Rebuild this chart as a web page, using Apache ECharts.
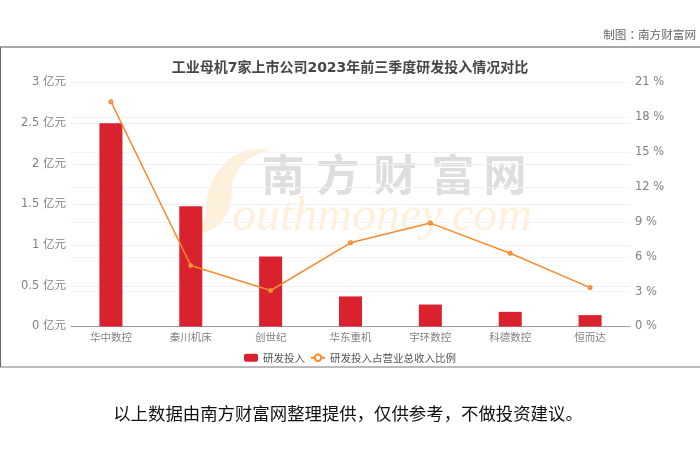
<!DOCTYPE html>
<html>
<head>
<meta charset="utf-8">
<style>
html, body { margin: 0; padding: 0; background: #fff; }
#chart { width: 700px; height: 467px; }
</style>
<script src="https://cdn.jsdelivr.net/npm/echarts@6/dist/echarts.min.js"></script>
</head>
<body>
<div id="chart"></div>
<script>
var categories = ['华中数控', '秦川机床', '创世纪', '华东重机', '宇环数控', '科德数控', '恒而达']
var rdSpend = [2.5, 1.48, 0.86, 0.37, 0.27, 0.18, 0.14]
var rdRatio = [19.35, 5.25, 3.1, 7.2, 8.9, 6.3, 3.35]
var fontCJK = '"Noto Sans CJK SC", "DejaVu Sans", sans-serif'
var fontAxis = '"DejaVu Sans", "Noto Sans CJK SC", sans-serif'

// watermark glyphs are spaced wider than the font does by itself
var wmChars = ['南', '方', '财', '富', '网']
var wmX = [283, 338, 395, 453, 505]
var wmElements = wmChars.map(function (c, i) {
  return {
    type: 'text', silent: true, z: -1, x: wmX[i], y: 175,
    style: { text: c, align: 'center', verticalAlign: 'middle', font: 'bold 43px ' + fontCJK, fill: '#dedede' }
  }
})

var chart = echarts.init(document.getElementById('chart'), null, { renderer: 'canvas' })
chart.setOption({
  animation: false,
  backgroundColor: '#fff',
  title: {
    text: '工业母机7家上市公司2023年前三季度研发投入情况对比',
    left: 345,
    top: 56,
    textAlign: 'center',
    textStyle: { fontFamily: fontAxis, fontSize: 14, fontWeight: 'bold', color: '#464646' }
  },
  legend: {
    bottom: 99,
    left: 'center',
    itemWidth: 14,
    itemHeight: 8,
    itemGap: 5,
    textStyle: { fontFamily: fontCJK, fontSize: 10.5, color: '#555' },
    data: ['研发投入', '研发投入占营业总收入比例']
  },
  grid: { left: 71, right: 70, top: 82.5, bottom: 140.5 },
  xAxis: {
    type: 'category',
    data: categories,
    axisLine: { lineStyle: { color: '#9a9aa6' } },
    axisTick: { lineStyle: { color: '#9a9aa6' } },
    axisLabel: { fontFamily: fontCJK, fontSize: 10.5, color: '#808088', margin: 5 }
  },
  yAxis: [
    {
      type: 'value',
      min: 0,
      max: 3,
      interval: 0.5,
      axisLine: { show: false },
      axisTick: { show: false },
      splitLine: { lineStyle: { color: '#eef0f8' } },
      axisLabel: { fontFamily: fontAxis, fontSize: 11.5, color: '#808088', margin: 5, padding: [3, 0, 0, 0], formatter: '{value} 亿元' }
    },
    {
      type: 'value',
      min: 0,
      max: 21,
      interval: 3,
      axisLine: { show: false },
      axisTick: { show: false },
      splitLine: { lineStyle: { color: '#f2f3fa' } },
      axisLabel: { fontFamily: fontAxis, fontSize: 11.5, color: '#808088', margin: 5, padding: [2, 0, 0, 0], formatter: '{value} %' }
    }
  ],
  series: [
    {
      name: '研发投入',
      type: 'bar',
      barWidth: 23,
      data: rdSpend,
      itemStyle: { color: '#da222e' }
    },
    {
      name: '研发投入占营业总收入比例',
      type: 'line',
      yAxisIndex: 1,
      symbol: 'emptyCircle',
      symbolSize: 3,
      data: rdRatio,
      lineStyle: { color: '#f98a2c', width: 1.5 },
      itemStyle: { color: '#f98a2c' }
    }
  ],
  graphic: wmElements.concat([
    // frame round the chart
    { type: 'line', shape: { x1: 0, y1: 47, x2: 700, y2: 47 }, style: { stroke: '#a8a8a8', lineWidth: 2 } },
    { type: 'line', shape: { x1: 0.5, y1: 47, x2: 0.5, y2: 367 }, style: { stroke: '#666', lineWidth: 1 } },
    { type: 'line', shape: { x1: 0, y1: 367, x2: 700, y2: 367 }, style: { stroke: '#777', lineWidth: 1 } },
    { type: 'text', x: 696, y: 35, style: { text: '制图：南方财富网', align: 'right', verticalAlign: 'middle', font: '11.6px "Noto Sans CJK TC", sans-serif', fill: '#666' } },
    { type: 'text', x: 348, y: 413, style: { text: '以上数据由南方财富网整理提供，仅供参考，不做投资建议。', align: 'center', verticalAlign: 'middle', font: '17.4px ' + fontCJK, fill: '#111' } },
    // watermark
    { type: 'text', silent: true, z: -1, x: 232, y: 217, style: { text: 'outhmoney.com', align: 'left', verticalAlign: 'middle', font: 'italic 48px "Liberation Serif", serif', fill: '#fef0d9' } },
    {
      type: 'polygon', silent: true, z: -1,
      shape: {
        smooth: 0.4,
        points: [[268, 150], [240, 153], [217, 173], [207, 197], [203, 220], [172, 237], [203, 233], [223, 220], [231, 200], [233, 180], [247, 160]]
      },
      style: { fill: '#fef0d9' }
    }
  ])
})
</script>
</body>
</html>
